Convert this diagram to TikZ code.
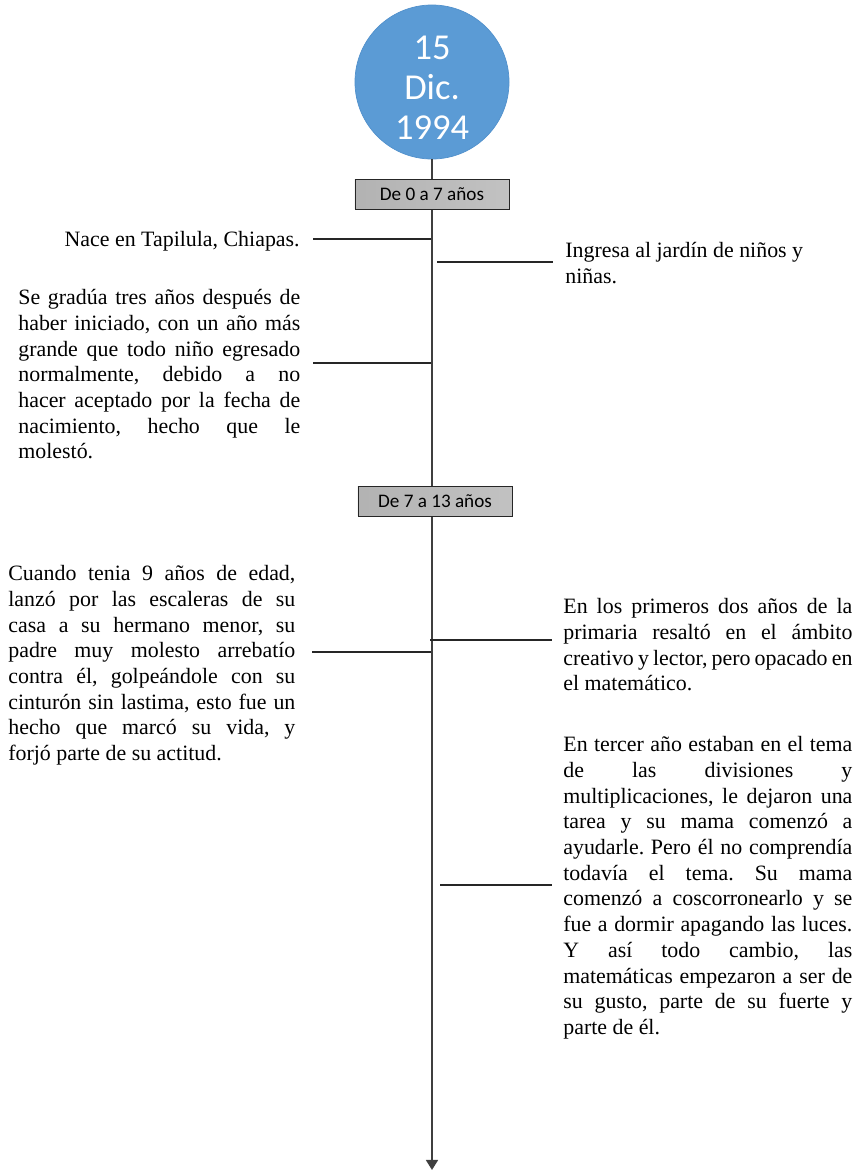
\documentclass[tikz,border=0pt]{standalone}
\usepackage{fontspec}
\setmainfont{Liberation Serif}
\newfontfamily\calibri{Carlito}
\usetikzlibrary{arrows.meta,positioning,calc}
\definecolor{datecol}{HTML}{5B9BD5}
\definecolor{daterim}{HTML}{5291CC}
\definecolor{axiscol}{HTML}{3F3F3F}
\newcommand\parfont{\fontsize{12}{14.1}\selectfont\parindent=0pt\frenchspacing
  \hyphenpenalty=10000 \tolerance=9999 \hbadness=10000 \relax}

\begin{document}
\begin{tikzpicture}[x=0.548pt, y=-0.548pt,
  datenode/.style={circle, draw=daterim, fill=datecol, minimum size=84.4pt,
              inner sep=0pt},
  datetext/.style={text=white, align=center, inner sep=0pt,
              font=\calibri\fontsize{20}{21.9}\selectfont},
  agebox/.style={draw=black!85, line width=0.5pt, left color=black!30,
              middle color=black!9, right color=black!24,
              minimum width=84.4pt, minimum height=16.4pt, inner sep=0pt,
              font=\calibri\fontsize{10.5}{12}\selectfont},
  evt/.style={inner sep=0pt, font=\parfont},
  lpara/.style={evt, anchor=north west, text width=154.5pt, align=justify},
  rpara/.style={evt, anchor=north west, text width=158.4pt, align=justify},
  axis/.style={axiscol, line width=1.1pt, -{Triangle[width=6.5pt, length=5.5pt]}},
  tick/.style={black!85, line width=0.8pt}]
  \useasboundingbox (0,0) rectangle (859,1175);
  % time axis
  \node[datenode, label={[datetext, yshift=-3.3pt]center:{15\\Dic.\\1994}}]
    (date) at (432,82) {};
  \coordinate (tip) at (432,1170);
  \draw[axis] (date) -- (tip);
  \node[agebox] (age1) at (432,194) {De 0 a 7 años};
  \node[agebox] (age2) at (435,501) {De 7 a 13 años};
  % events
  \node[evt, anchor=base east] (nace) at (300,246) {Nace en Tapilula, Chiapas.};
  \node[evt, anchor=north west, align=left] (jardin) at (565,242)
    {Ingresa al jardín de niños y\\niñas.};
  \node[lpara, text width=154.5pt] (gradua) at (18,289)
    {Se gradúa tres años después de\linebreak haber iniciado, con un año más\linebreak
     grande que todo niño egresado\linebreak normalmente, debido a no\linebreak
     hacer aceptado por la fecha de\linebreak nacimiento, hecho que le\linebreak molestó.};
  \node[lpara, text width=157.3pt] (escalera) at (8,565)
    {Cuando tenia 9 años de edad,\linebreak lanzó por las escaleras de su\linebreak
     casa a su hermano menor, su\linebreak padre muy molesto arrebatío\linebreak
     contra él, golpeándole con su\linebreak cinturón sin lastima, esto fue un\linebreak
     hecho que marcó su vida, y\linebreak forjó parte de su actitud.};
  \node[rpara] (primaria) at (563,598)
    {En los primeros dos años de la\linebreak primaria resaltó en el ámbito\linebreak
     creativo y lector, pero opacado en\linebreak el matemático.};
  \node[rpara] (tercero) at (563,736)
    {En tercer año estaban en el tema\linebreak de las divisiones y\linebreak
     multiplicaciones, le dejaron una\linebreak tarea y su mama comenzó a\linebreak
     ayudarle. Pero él no comprendía\linebreak todavía el tema. Su mama\linebreak
     comenzó a coscorronearlo y se\linebreak fue a dormir apagando las luces.\linebreak
     Y así todo cambio, las\linebreak matemáticas empezaron a ser de\linebreak
     su gusto, parte de su fuerte y\linebreak parte de él.};
  % ticks
  \coordinate (t1) at (431,239);
  \coordinate (t2) at (437,262);
  \coordinate (t3) at (431,363);
  \coordinate (t4) at (431,652);
  \coordinate (t5) at (430,640);
  \coordinate (t6) at (440,885);
  \draw[tick, shorten >=7pt] (t1) -- (nace.east |- t1);
  \draw[tick, shorten >=6.5pt] (t2) -- (jardin.west |- t2);
  \draw[tick, shorten >=6.5pt] (t3) -- (gradua.east |- t3);
  \draw[tick, shorten >=9pt] (t4) -- (escalera.east |- t4);
  \draw[tick, shorten >=6pt] (t5) -- (primaria.west |- t5);
  \draw[tick, shorten >=6pt] (t6) -- (tercero.west |- t6);
\end{tikzpicture}
\end{document}
